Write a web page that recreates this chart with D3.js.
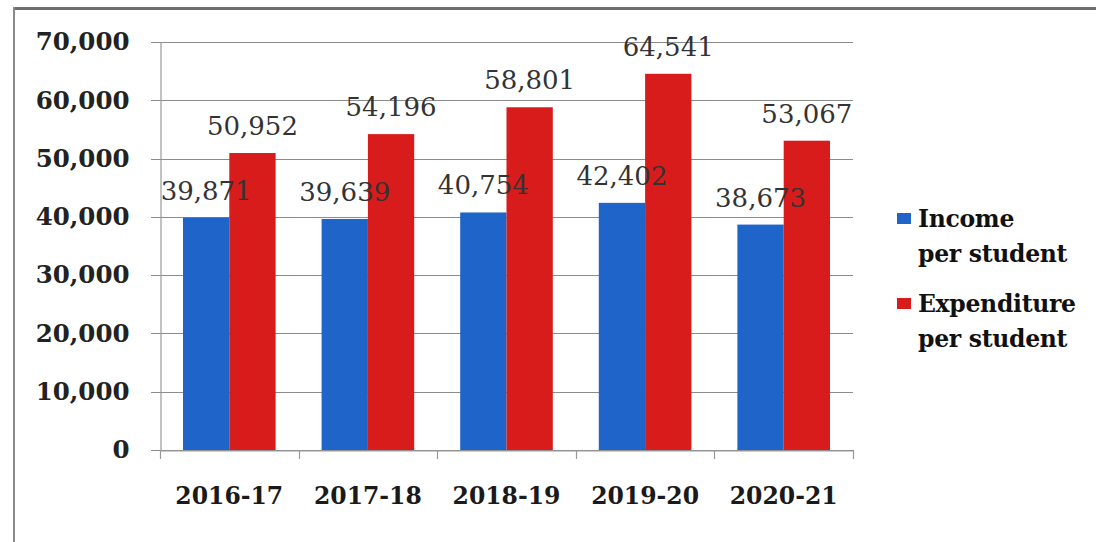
<!DOCTYPE html>
<html><head><meta charset="utf-8">
<script src="https://cdn.jsdelivr.net/npm/d3@7"></script>
<style>html,body{margin:0;padding:0;background:#fff;}svg{display:block;}</style>
</head><body>
<svg id="chart" width="1096" height="542"></svg>
<script>
const categories = ["2016-17","2017-18","2018-19","2019-20","2020-21"];
const seriesNames = ["Income per student","Expenditure per student"];
const income = [39871,39639,40754,42402,38673];
const expenditure = [50952,54196,58801,64541,53067];
const yTicks = [0,10000,20000,30000,40000,50000,60000,70000];
const colors = ["#1f64c8","#d81b1b"];
const legendLines = [["Income","per student"],["Expenditure","per student"]];

const svg = d3.select("#chart");
const fmt = d3.format(",");
const m = {left:160, right:853, top:42, bottom:450};

// frame
svg.append("line").attr("x1",13).attr("x2",1096).attr("y1",8.5).attr("y2",8.5).attr("stroke","#6e6e6e").attr("stroke-width",3);
svg.append("line").attr("x1",14).attr("x2",14).attr("y1",7).attr("y2",542).attr("stroke","#8a8a8a").attr("stroke-width",2);

const x = d3.scaleBand().domain(categories).range([m.left,m.right]).paddingInner(0).paddingOuter(0);
const y = d3.scaleLinear().domain([0,70000]).range([m.bottom,m.top]);
const xs = d3.scaleBand().domain([0,1]).range([23, x.bandwidth()-23]);

// gridlines
svg.append("g").selectAll("line").data(yTicks).join("line")
  .attr("x1",151).attr("x2",m.right)
  .attr("y1",d=>Math.round(y(d))+0.5).attr("y2",d=>Math.round(y(d))+0.5)
  .attr("stroke","#8c8c8c").attr("stroke-width",1.2);

// y axis
const yAxis = svg.append("g").attr("transform",`translate(${m.left+0.5},0)`)
  .call(d3.axisLeft(y).tickValues(yTicks).tickFormat(fmt).tickSize(0).tickPadding(31));
yAxis.select(".domain").attr("stroke","#999").attr("stroke-width",1.2);
yAxis.selectAll("text").attr("font-family","DejaVu Serif").attr("font-weight","bold")
  .attr("font-size",24.5).attr("fill","#222");

// x axis
const xAxis = svg.append("g").attr("transform",`translate(0,${m.bottom+0.5})`)
  .call(d3.axisBottom(x).tickSize(0).tickPadding(37));
xAxis.select(".domain").attr("stroke","#999").attr("stroke-width",1.2);
xAxis.selectAll(".tick line").remove();
xAxis.selectAll("text").attr("font-family","DejaVu Serif").attr("font-weight","bold")
  .attr("font-size",23.5).attr("fill","#1a1a1a");
// category boundary ticks
const bounds = categories.map(c=>x(c)).concat([m.right]);
svg.append("g").selectAll("line").data(bounds).join("line")
  .attr("x1",d=>Math.round(d)+0.5).attr("x2",d=>Math.round(d)+0.5)
  .attr("y1",m.bottom).attr("y2",m.bottom+9).attr("stroke","#999").attr("stroke-width",1.2);

const series = [income, expenditure];
series.forEach((vals,si)=>{
  const g = svg.append("g");
  g.selectAll("rect").data(vals).join("rect")
    .attr("x",(d,i)=>x(categories[i])+xs(si))
    .attr("width",xs.bandwidth())
    .attr("y",d=>y(d))
    .attr("height",d=>m.bottom-y(d))
    .attr("fill",colors[si]);
});
series.forEach((vals,si)=>{
  svg.append("g").selectAll("text").data(vals).join("text")
    .attr("x",(d,i)=>x(categories[i])+xs(si)+xs.bandwidth()/2)
    .attr("y",d=>y(d)-18)
    .attr("text-anchor","middle")
    .attr("font-family","DejaVu Serif").attr("font-size",26)
    .attr("fill","#333").text(d=>fmt(d));
});

// legend
const lg = svg.append("g");
const legY = [227,312];
legendLines.forEach((lines,i)=>{
  lg.append("rect").attr("x",897).attr("y",legY[i]-14).attr("width",14).attr("height",11).attr("fill",colors[i]);
  lines.forEach((t,j)=>{
    lg.append("text").attr("x",918).attr("y",legY[i]+j*35)
      .attr("font-family","DejaVu Serif").attr("font-weight","bold").attr("font-size",23.5)
      .attr("letter-spacing",-0.3)
      .attr("fill","#111").text(t);
  });
});
</script>
</body></html>
